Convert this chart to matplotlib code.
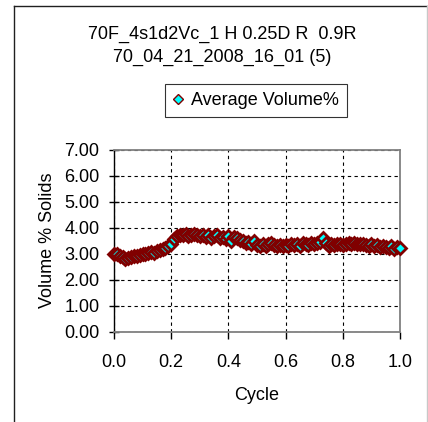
import matplotlib
matplotlib.use("Agg")
import matplotlib.pyplot as plt
from matplotlib.lines import Line2D

plt.rcParams['font.family'] = ['Liberation Sans', 'DejaVu Sans']

title_lines = ["70F_4s1d2Vc_1 H 0.25D R  0.9R", "70_04_21_2008_16_01 (5)"]
series_name = "Average Volume%"
x_label = "Cycle"
y_label = "Volume % Solids"

cycle = [i / 100 for i in range(101)]
volume = [
    3.00, 2.98, 2.92, 2.85, 2.80, 2.84, 2.88, 2.90, 2.92, 2.95,
    2.97, 3.00, 3.02, 3.05, 3.03, 3.08, 3.12, 3.18, 3.22, 3.28,
    3.35, 3.55, 3.68, 3.72, 3.70, 3.74, 3.68, 3.73, 3.75, 3.70,
    3.66, 3.72, 3.62, 3.70, 3.58, 3.68, 3.72, 3.60, 3.65, 3.55,
    3.68, 3.50, 3.62, 3.58, 3.52, 3.48, 3.42, 3.45, 3.38, 3.50,
    3.32, 3.28, 3.35, 3.30, 3.38, 3.40, 3.32, 3.28, 3.33, 3.30,
    3.34, 3.28, 3.35, 3.32, 3.38, 3.30, 3.40, 3.35, 3.32, 3.42,
    3.38, 3.40, 3.45, 3.60, 3.40, 3.30, 3.35, 3.32, 3.38, 3.36,
    3.34, 3.38, 3.40, 3.35, 3.42, 3.38, 3.35, 3.38, 3.33, 3.30,
    3.35, 3.28, 3.32, 3.26, 3.30, 3.25, 3.22, 3.28, 3.18, 3.25,
    3.20,
]
x_ticks = [0.0, 0.2, 0.4, 0.6, 0.8, 1.0]
y_ticks = [0, 1, 2, 3, 4, 5, 6, 7]

W, H = 428, 422
FS = 13
fig = plt.figure(figsize=(W / 100, H / 100), dpi=100)

# figure frame
fig.add_artist(Line2D([14 / W, 14 / W], [0, 1 - 6 / H], color='#202020', lw=1.0, transform=fig.transFigure))
fig.add_artist(Line2D([14 / W, 426.5 / W], [1 - 6 / H, 1 - 6 / H], color='#202020', lw=1.0, transform=fig.transFigure))
fig.add_artist(Line2D([426.5 / W, 426.5 / W], [0, 1 - 6 / H], color='#c8c8c8', lw=1.0, transform=fig.transFigure))

ax = fig.add_axes([114 / W, 1 - 331.5 / H, (400 - 114) / W, (331.5 - 149.5) / H])

ax.plot(cycle, volume, linestyle='none', marker='D', markersize=5.8,
        markerfacecolor='#00ffff', markeredgecolor='#800000', markeredgewidth=2.0,
        label=series_name, clip_on=False, zorder=3)

ax.set_xlim(0, 1)
ax.set_ylim(0, 7)
ax.set_xticks(x_ticks)
ax.set_xticklabels([f"{t:.1f}" for t in x_ticks])
ax.set_yticks(y_ticks)
ax.set_yticklabels([f"{t:.2f}" for t in y_ticks])

ax.grid(True, color='black', linestyle=(0, (3, 3)), linewidth=0.8)
ax.set_axisbelow(True)

for side in ['top', 'right', 'bottom']:
    ax.spines[side].set_color('#808080')
    ax.spines[side].set_linewidth(1.3)
ax.spines['left'].set_color('black')
ax.spines['left'].set_linewidth(1.0)

ax.tick_params(axis='y', direction='inout', length=7, width=1, labelsize=FS, pad=7)
ax.tick_params(axis='x', direction='out', length=5, width=1, labelsize=FS, pad=11)

ax.set_xlabel(x_label, fontsize=FS, labelpad=12)
ax.set_ylabel(y_label, fontsize=FS, labelpad=6)

fig.text(222 / W, 1 - 34 / H, title_lines[0], ha='center', va='center', fontsize=FS)
fig.text(222 / W, 1 - 57 / H, title_lines[1], ha='center', va='center', fontsize=FS)

leg = fig.legend(loc='center', bbox_to_anchor=(256 / W, 1 - 100.5 / H), fontsize=FS,
                 frameon=True, fancybox=False, edgecolor='black', handlelength=0.6,
                 handletextpad=0.4, borderpad=0.45, markerscale=1.0)
leg.get_frame().set_linewidth(0.8)
for h in leg.legend_handles:
    h.set_markersize(5)
    h.set_markeredgewidth(1.0)

fig.savefig('out.png', dpi=100)
